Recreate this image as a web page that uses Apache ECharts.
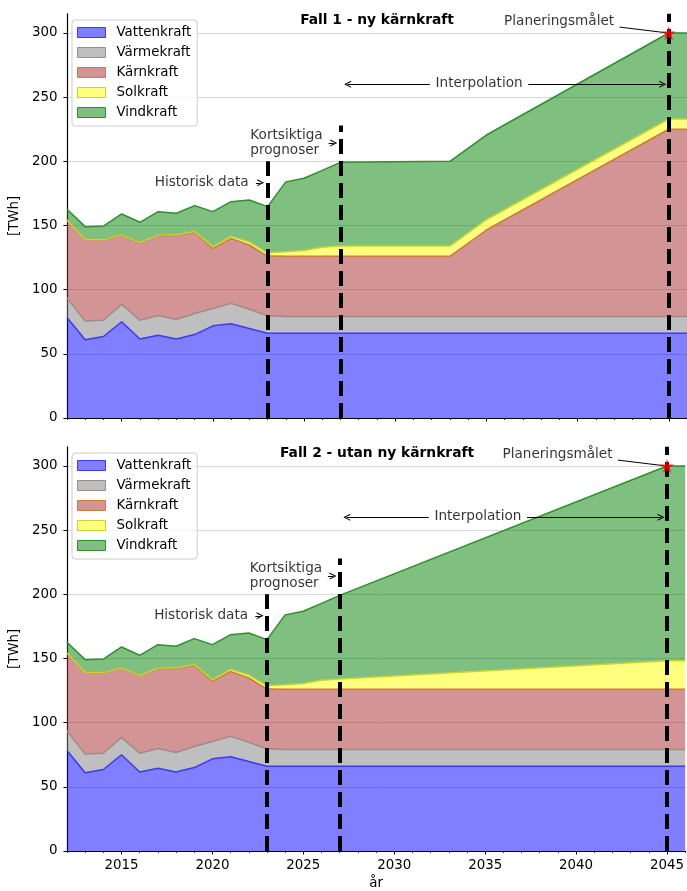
<!DOCTYPE html>
<html><head><meta charset="utf-8">
<script src="https://cdn.jsdelivr.net/npm/echarts@6.0.0/dist/echarts.min.js"></script>
<style>html,body{margin:0;padding:0;background:#fff}#c{width:687px;height:891px}</style>
</head><body><div id="c"></div>
<script>
// ---------- data ----------
const names = ['Vattenkraft','Värmekraft','Kärnkraft','Solkraft','Vindkraft'];
// Fall 1 - ny kärnkraft
const years1  = [2012,2013,2014,2015,2016,2017,2018,2019,2020,2021,2022,2023,2024,2025,2026,2027,2033,2035,2045,2046];
const vatten1 = [78.3,61,63.5,75,61.5,64.5,61.5,65,71.8,73.5,69.7,66, 66,66,66,66, 66,66,66,66];
const varme1  = [15.4,14.5,12.7,13.5,14.7,15.4,15.3,16.4,13.5,15.8,15.1,13.6, 13,13,13,13, 13,13,13,13];
const karn1   = [60.6,63.7,62.5,54.1,60.4,62.4,65.5,63.3,46.9,50.7,50,46.6, 47,47,47,47, 47,67.5,146,146];
const sol1    = [0,0,0.1,0.1,0.1,0.2,0.4,0.7,1.1,1.5,2.3,2.5, 3.5,4.5,7,8, 8,8,8,8];
const vind1   = [8.3,9.9,10.8,16.3,15.8,18.3,16.8,20.1,27.5,27.1,32.8,36, 54.5,56.3,60,65.2, 66,66,67,67];
// Fall 2 - utan ny kärnkraft
const years2  = [2012,2013,2014,2015,2016,2017,2018,2019,2020,2021,2022,2023,2024,2025,2026,2027,2045,2046];
const vatten2 = [78.3,61,63.5,75,61.5,64.5,61.5,65,71.8,73.5,69.7,66, 66,66,66,66, 66,66];
const varme2  = [15.4,14.5,12.7,13.5,14.7,15.4,15.3,16.4,13.5,15.8,15.1,13.6, 13,13,13,13, 13,13];
const karn2   = [60.6,63.7,62.5,54.1,60.4,62.4,65.5,63.3,46.9,50.7,50,46.6, 47,47,47,47, 47,47];
const sol2    = [0,0,0.1,0.1,0.1,0.2,0.4,0.7,1.1,1.5,2.3,2.5, 3.5,4.5,7,8, 22.3,22.3];
const vind2   = [8.3,9.9,10.8,16.3,15.8,18.3,16.8,20.1,27.5,27.1,32.8,36, 54.5,56.3,60,65.2, 151.7,151.7];
// axis ticks
const yTicks = [0,50,100,150,200,250,300];
const xTicks = [2015,2020,2025,2030,2035,2040,2045];
const xMinorTicks = [2012,2013,2014,2015,2016,2017,2018,2019,2020,2021,2022,2023,2024,2025,2026,2027,2028,2029,2030,2031,2032,2033,2034,2035,2036,2037,2038,2039,2040,2041,2042,2043,2044,2045,2046];
// vertical markers (year, height)
const vlineYears = [2023, 2027, 2045];
const vlineTops  = [200, 228, 315];
const target = [2045, 300];

// ---------- styles ----------
const FONT = 'DejaVu Sans';
const TICK_FS = 13.4, ANN_FS = 13.6;
const fills = ['rgba(0,0,255,0.5)','rgba(128,128,128,0.5)','rgba(165,42,42,0.5)','rgba(255,255,0,0.5)','rgba(0,128,0,0.5)'];
const lines = ['#3a3af5','#a08a8a','#cd7a3a','#c8d62a','#2e8f2e'];
const STAR = 'path://M50,0 L61,35 L98,35 L68,57 L79,91 L50,70 L21,91 L32,57 L2,35 L39,35 Z';
const CHEV = 'path://M0,10 L5,0 L10,10 L8.4,10 L5,3.2 L1.6,10 Z';

const gridTops = [13.75, 446.75];
const PLOT_H = 404.25;
const titles = ['Fall 1 - ny kärnkraft', 'Fall 2 - utan ny kärnkraft'];
const legendTops = [20, 453];

// annotation anchors in data coordinates
const ann = {
  hist: [2021.99, 183.3],
  kort: [2022.03, 214.3],
  interp: [2034.6, 260.3],
  plan: [2042.03, 309.3],
  arrows: [
    [[2022.36,183.3],[2022.62,183.3]],
    [[2026.35,214.2],[2026.63,214.2]],
    [[2031.9,260],[2027.39,260]],
    [[2037.3,260],[2044.67,260]]
  ],
  pointer: [[2042.3,304.6],[2044.85,300.2]]
};

const yearFmt = v => String(Math.round(v));

const option = {
  animation: false,
  textStyle: {fontFamily: FONT},
  grid: gridTops.map(t => ({left: 65, top: t, width: 624, height: PLOT_H, containLabel: false})),
  graphic: titles.map((t, i) => ({
    type: 'text', x: 377, y: gridTops[i] + 6.5, z: 20,
    style: {text: t, font: 'bold 13.8px "DejaVu Sans"', fill: '#000', textAlign: 'center', textVerticalAlign: 'middle'}
  })),
  legend: legendTops.map(t => ({
    left: 72, top: t, orient: 'vertical',
    itemWidth: 28, itemHeight: 10, itemGap: 7,
    padding: [6, 6, 7, 5],
    backgroundColor: 'rgba(255,255,255,0.8)', borderColor: '#cccccc', borderWidth: 1, borderRadius: 3,
    textStyle: {fontSize: TICK_FS, color: '#000', fontFamily: FONT, padding: [0, 0, 0, 6]},
    selectedMode: false,
    data: names.map((n, k) => ({name: n, icon: 'rect', itemStyle: {color: fills[k], borderColor: lines[k], borderWidth: 1}}))
  })),
  xAxis: [],
  yAxis: [],
  series: []
};

[0, 1].forEach(g => {
  option.xAxis.push({
    type: 'value', gridIndex: g, min: 2012, max: 2046, position: 'bottom',
    axisLine: {show: true, onZero: false, lineStyle: {color: '#000', width: 1.2}},
    axisTick: {show: true, length: 3.5, lineStyle: {color: '#000', width: 1}, customValues: xTicks},
    axisLabel: {show: g === 1, customValues: xTicks, formatter: yearFmt, fontSize: TICK_FS, color: '#000', margin: 8, fontFamily: FONT},
    splitLine: {show: false},
    name: g === 1 ? 'år' : '', nameLocation: 'middle', nameGap: 26,
    nameTextStyle: {fontSize: TICK_FS, color: '#000', fontFamily: FONT}
  });
  option.xAxis.push({
    type: 'value', gridIndex: g, min: 2012, max: 2046, position: 'bottom',
    axisLine: {show: false},
    axisTick: {show: true, length: 2, lineStyle: {color: '#000', width: 0.8}, customValues: xMinorTicks},
    axisLabel: {show: false},
    splitLine: {show: false}
  });
  option.yAxis.push({
    type: 'value', gridIndex: g, min: 0, max: 315, interval: 50,
    axisLine: {show: true, lineStyle: {color: '#000', width: 1.2}},
    axisTick: {show: true, length: 3.5, lineStyle: {color: '#000', width: 1}, customValues: yTicks},
    axisLabel: {customValues: yTicks, fontSize: TICK_FS, color: '#000', margin: 9.5, fontFamily: FONT},
    splitLine: {show: true, lineStyle: {color: '#d6d6d6', width: 1}},
    name: '[TWh]', nameLocation: 'middle', nameGap: 36, nameRotate: 90,
    nameTextStyle: {fontSize: TICK_FS, color: '#000', fontFamily: FONT}
  });
});

const sets = [
  {years: years1, vals: [vatten1, varme1, karn1, sol1, vind1]},
  {years: years2, vals: [vatten2, varme2, karn2, sol2, vind2]}
];

sets.forEach((s, g) => {
  const xi = g * 2, yi = g;
  s.vals.forEach((arr, k) => {
    option.series.push({
      type: 'line', name: names[k], xAxisIndex: xi, yAxisIndex: yi, stack: 'fall' + g,
      // value first so the library stacks the value dimension; year mapped to x via encode
      data: s.years.map((y, i) => [arr[i], y]),
      encode: {x: 1, y: 0},
      symbol: 'none', showSymbol: false, silent: true, z: 2,
      lineStyle: {color: lines[k], width: 1.5},
      itemStyle: {color: lines[k]},
      areaStyle: {color: fills[k], opacity: 1}
    });
  });
  option.series.push({
    type: 'scatter', name: 'vlines' + g, xAxisIndex: xi, yAxisIndex: yi, data: [], silent: true, z: 5,
    markLine: {
      silent: true, symbol: ['none', 'none'], label: {show: false}, animation: false,
      lineStyle: {color: '#000', width: 4, type: [15, 7], opacity: 1},
      emphasis: {disabled: true},
      data: vlineYears.map((yr, i) => [{coord: [yr, 0]}, {coord: [yr, vlineTops[i]]}])
    }
  });
  option.series.push({
    type: 'scatter', name: 'arrows' + g, xAxisIndex: xi, yAxisIndex: yi, data: [], silent: true, z: 6,
    markLine: {
      silent: true, symbol: ['none', CHEV], symbolSize: 7, label: {show: false}, animation: false,
      lineStyle: {color: '#000', width: 1, type: 'solid', opacity: 1},
      emphasis: {disabled: true},
      data: ann.arrows.map(a => [{coord: a[0]}, {coord: a[1]}])
    }
  });
  option.series.push({
    type: 'scatter', name: 'pointer' + g, xAxisIndex: xi, yAxisIndex: yi, data: [], silent: true, z: 6,
    markLine: {
      silent: true, symbol: ['none', 'none'], label: {show: false}, animation: false,
      lineStyle: {color: '#000', width: 1, type: 'solid', opacity: 1},
      emphasis: {disabled: true},
      data: [[{coord: ann.pointer[0]}, {coord: ann.pointer[1]}]]
    }
  });
  option.series.push({
    type: 'scatter', name: 'target' + g, xAxisIndex: xi, yAxisIndex: yi, silent: true, z: 8,
    symbol: STAR, symbolSize: 14, itemStyle: {color: '#ff0000'},
    data: [target]
  });
  const lbl = {fontSize: ANN_FS, color: '#000', fontFamily: FONT};
  option.series.push({
    type: 'scatter', name: 'annot' + g, xAxisIndex: xi, yAxisIndex: yi, silent: true, z: 9,
    symbolSize: 1, itemStyle: {color: 'rgba(0,0,0,0)'},
    data: [
      {value: ann.hist, label: Object.assign({show: true, position: 'left', distance: 0, formatter: 'Historisk data'}, lbl)},
      {value: ann.kort, label: Object.assign({show: true, position: 'right', distance: 0, align: 'left', lineHeight: 15.5, formatter: 'Kortsiktiga\nprognoser'}, lbl)},
      {value: ann.interp, label: Object.assign({show: true, position: 'inside', formatter: 'Interpolation'}, lbl)},
      {value: ann.plan, label: Object.assign({show: true, position: 'left', distance: 0, formatter: 'Planeringsmålet'}, lbl)}
    ]
  });
});

const chart = echarts.init(document.getElementById('c'), null, {renderer: 'canvas'});
chart.setOption(option);
</script>
</body></html>
